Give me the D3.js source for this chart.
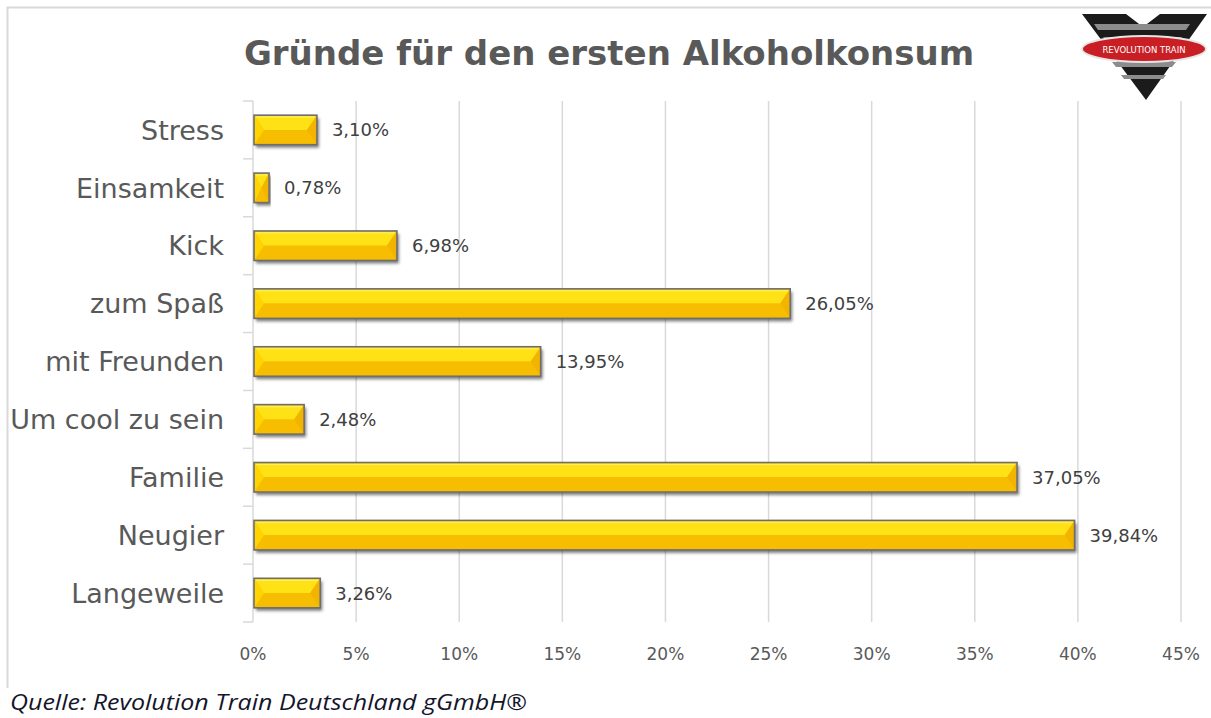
<!DOCTYPE html>
<html>
<head>
<meta charset="utf-8">
<script src="https://d3js.org/d3.v7.min.js"></script>
<style>
  * { margin:0; padding:0; }
  body { background:#fff; width:1211px; height:718px; overflow:hidden; }
  svg { display:block; }
</style>
</head>
<body>
<svg id="chart" width="1211" height="718"></svg>
<script>
// ── Data ─────────────────────────────────────────────────────────────────────
const categories = ["Stress", "Einsamkeit", "Kick", "zum Spaß", "mit Freunden",
                    "Um cool zu sein", "Familie", "Neugier", "Langeweile"];
const values     = [3.10, 0.78, 6.98, 26.05, 13.95, 2.48, 37.05, 39.84, 3.26];
const tickValues = [0, 5, 10, 15, 20, 25, 30, 35, 40, 45];
const titleText  = "Gründe für den ersten Alkoholkonsum";
const sourceText = "Quelle: Revolution Train Deutschland gGmbH®";

// ── Layout ───────────────────────────────────────────────────────────────────
const svg = d3.select("#chart");
const plot = { left: 253, right: 1181, top: 101, bottom: 622 };

const de = d3.formatLocale({ decimal: ",", thousands: ".", grouping: [3], currency: ["", "€"] });
const fmtVal = function(v) { return de.format(".2f")(v) + "%"; };

const x = d3.scaleLinear().domain([0, 45]).range([plot.left, plot.right]);
const y = d3.scaleBand().domain(categories).range([plot.top, plot.bottom]).paddingInner(0.49).paddingOuter(0.245);

// chart frame (light grey, right/bottom cut off)
svg.append("path")
  .attr("d", "M7.5,688 V7.5 H1211")
  .attr("fill", "none").attr("stroke", "#d9d9d9").attr("stroke-width", 2);

// drop shadow for bars
const defs = svg.append("defs");
const f = defs.append("filter").attr("id", "shadow")
  .attr("x", "-5%").attr("y", "-30%").attr("width", "115%").attr("height", "180%");
f.append("feDropShadow").attr("dx", 2).attr("dy", 3).attr("stdDeviation", 1.8)
  .attr("flood-color", "#000").attr("flood-opacity", 0.5);

// ── Gridlines ────────────────────────────────────────────────────────────────
svg.append("g").selectAll("line")
  .data(tickValues.slice(1))
  .join("line")
  .attr("x1", function(d) { return x(d); }).attr("x2", function(d) { return x(d); })
  .attr("y1", plot.top).attr("y2", plot.bottom)
  .attr("stroke", "#d9d9d9").attr("stroke-width", 1.5);

// category axis with ticks between bands
const axisG = svg.append("g");
axisG.append("line")
  .attr("x1", plot.left).attr("x2", plot.left)
  .attr("y1", plot.top).attr("y2", plot.bottom)
  .attr("stroke", "#d9d9d9").attr("stroke-width", 1.5);
const bounds = categories.map(function(c) { return y(c) - y.step() * y.paddingInner() / 2; });
bounds.push(plot.bottom);
axisG.selectAll("line.tk")
  .data(bounds)
  .join("line").attr("class", "tk")
  .attr("x1", plot.left - 10).attr("x2", plot.left)
  .attr("y1", function(d) { return d; }).attr("y2", function(d) { return d; })
  .attr("stroke", "#d9d9d9").attr("stroke-width", 1.5);

// x tick labels
svg.append("g").selectAll("text")
  .data(tickValues)
  .join("text")
  .attr("x", function(d) { return x(d); })
  .attr("y", 660)
  .attr("text-anchor", "middle")
  .attr("font-family", "'DejaVu Sans', sans-serif")
  .attr("font-size", 17)
  .attr("fill", "#595959")
  .text(function(d) { return d + "%"; });

// category labels
svg.append("g").selectAll("text")
  .data(categories)
  .join("text")
  .attr("x", 224)
  .attr("y", function(d) { return y(d) + y.bandwidth() / 2; })
  .attr("dy", "0.36em")
  .attr("text-anchor", "end")
  .attr("font-family", "'DejaVu Sans', sans-serif")
  .attr("font-size", 27)
  .attr("fill", "#595959")
  .text(function(d) { return d; });

// ── Bevelled bars ────────────────────────────────────────────────────────────
const rows = categories.map(function(c, i) { return { cat: c, val: values[i] }; });
const bars = svg.append("g").selectAll("g.bar")
  .data(rows)
  .join("g").attr("class", "bar");

bars.each(function(d) {
  const g = d3.select(this);
  const x0 = x(0) + 1, x1 = x(d.val);
  const y0 = y(d.cat), h = y.bandwidth(), y1 = y0 + h, ym = y0 + h / 2;
  const b = Math.min(10, (x1 - x0) / 2);
  const pts = function(a) { return a.map(function(p) { return p.join(","); }).join(" "); };

  g.append("rect")
    .attr("x", x0).attr("y", y0).attr("width", x1 - x0).attr("height", h)
    .attr("fill", "#f7bf00").attr("filter", "url(#shadow)");
  g.append("polygon").attr("points", pts([[x0, y0], [x1, y0], [x1 - b, ym], [x0 + b, ym]])).attr("fill", "#ffe215");
  g.append("polygon").attr("points", pts([[x0, y1], [x1, y1], [x1 - b, ym], [x0 + b, ym]])).attr("fill", "#f7bd00");
  g.append("polygon").attr("points", pts([[x0, y0], [x0 + b, ym], [x0, y1]])).attr("fill", "#ffd400");
  g.append("polygon").attr("points", pts([[x1, y0], [x1 - b, ym], [x1, y1]])).attr("fill", "#f2b400");
  g.append("line")
    .attr("x1", x0 + 2).attr("x2", x1 - 2).attr("y1", y0 + 2).attr("y2", y0 + 2)
    .attr("stroke", "#fff27a").attr("stroke-width", 1.2).attr("opacity", 0.7);
  g.append("rect")
    .attr("x", x0).attr("y", y0).attr("width", x1 - x0).attr("height", h)
    .attr("fill", "none").attr("stroke", "#6e6e6e").attr("stroke-width", 1.6);

  g.append("text")
    .attr("x", x1 + 15).attr("y", ym).attr("dy", "0.36em")
    .attr("font-family", "'DejaVu Sans', sans-serif")
    .attr("font-size", 18).attr("fill", "#404040")
    .text(fmtVal(d.val));
});

// ── Title & source ───────────────────────────────────────────────────────────
svg.append("text")
  .attr("x", 609).attr("y", 65)
  .attr("text-anchor", "middle")
  .attr("font-family", "'DejaVu Sans', sans-serif")
  .attr("font-weight", "bold").attr("font-size", 34)
  .attr("fill", "#595959")
  .text(titleText);

svg.append("text")
  .attr("x", 10).attr("y", 710)
  .attr("font-family", "'Open Sans', sans-serif")
  .attr("font-style", "italic").attr("font-size", 22)
  .attr("textLength", 517).attr("lengthAdjust", "spacingAndGlyphs")
  .attr("fill", "#15152a")
  .text(sourceText);

// ── Logo (top right) ─────────────────────────────────────────────────────────
const logo = svg.append("g");
logo.append("path")
  .attr("d", "M1082,14 L1126,14 L1143,27 L1160,14 L1207,14 L1146,100 Z")
  .attr("fill", "#1b1b1b");
logo.append("path")
  .attr("d", "M1094,24 L1190,24 L1186,30 L1098,30 Z M1103,37 L1182,37 L1179,41 L1106,41 Z M1112,62 L1176,62 L1172,67 L1116,67 Z M1121,75 L1166,75 L1163,79 L1124,79 Z")
  .attr("fill", "#8c8c8c");
logo.append("ellipse")
  .attr("cx", 1144).attr("cy", 49).attr("rx", 62).attr("ry", 13)
  .attr("fill", "#c81e24").attr("stroke", "#e6e6e6").attr("stroke-width", 2);
logo.append("text")
  .attr("x", 1144).attr("y", 52.5)
  .attr("text-anchor", "middle")
  .attr("font-family", "'DejaVu Sans', sans-serif")
  .attr("font-size", 8.5)
  .attr("fill", "#fff")
  .text("REVOLUTION  TRAIN");
</script>
</body>
</html>
